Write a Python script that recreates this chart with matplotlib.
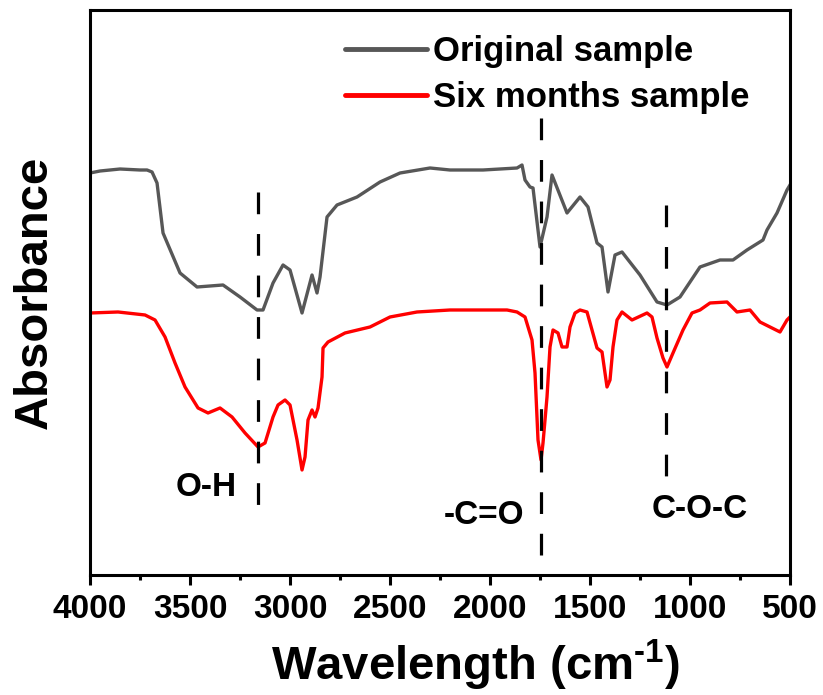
import matplotlib
matplotlib.use('Agg')
import matplotlib.pyplot as plt
import numpy as np
from matplotlib.ticker import MultipleLocator

plt.rcParams['font.family'] = 'Liberation Sans'
plt.rcParams['font.weight'] = 'bold'
plt.rcParams['mathtext.fontset'] = 'custom'
plt.rcParams['mathtext.rm'] = 'Liberation Sans:bold'
plt.rcParams['mathtext.bf'] = 'Liberation Sans:bold'
plt.rcParams['mathtext.default'] = 'bf'

# ---- data (arbitrary absorbance units) ----
wn_orig = [4000, 3950, 3850, 3750, 3715, 3690, 3665, 3635, 3550, 3465, 3335, 3250,
           3165, 3135, 3085, 3035, 3000, 2940, 2890, 2865, 2850, 2815, 2765, 2665,
           2550, 2450, 2300, 2200, 2035, 1865, 1840, 1825, 1800, 1785, 1750, 1715,
           1690, 1615, 1550, 1510, 1465, 1440, 1410, 1375, 1340, 1250, 1165, 1115,
           1050, 950, 850, 785, 715, 635, 615, 565, 515, 500]
abs_orig = [402, 404, 406, 405, 405, 403, 392, 342, 302, 288, 290, 278,
            265, 265, 292, 310, 305, 262, 300, 282, 298, 358, 370, 378,
            393, 402, 407, 405, 405, 407, 410, 395, 388, 387, 328, 358,
            400, 362, 378, 368, 332, 328, 283, 320, 323, 300, 273, 270,
            278, 308, 315, 315, 325, 335, 345, 362, 385, 390]

wn_six = [4000, 3860, 3725, 3675, 3625, 3575, 3525, 3460, 3410, 3350, 3290, 3225,
          3160, 3125, 3085, 3060, 3025, 3000, 2965, 2940, 2925, 2910, 2890, 2875,
          2860, 2840, 2835, 2810, 2725, 2600, 2500, 2365, 2200, 1915, 1865, 1825,
          1790, 1775, 1760, 1745, 1735, 1715, 1700, 1685, 1660, 1640, 1615, 1600,
          1575, 1550, 1515, 1490, 1465, 1440, 1415, 1400, 1385, 1365, 1340, 1290,
          1215, 1190, 1165, 1135, 1115, 1085, 1035, 990, 950, 900, 815, 765,
          700, 650, 550, 515, 500]
abs_six = [262, 263, 260, 255, 238, 212, 188, 167, 162, 167, 158, 142,
           128, 132, 158, 170, 175, 170, 135, 105, 118, 155, 165, 158,
           167, 198, 227, 233, 242, 248, 258, 263, 265, 265, 263, 258,
           235, 202, 135, 115, 132, 178, 228, 245, 242, 228, 228, 248,
           262, 265, 263, 245, 227, 223, 188, 195, 228, 255, 263, 255,
           262, 258, 237, 217, 208, 222, 245, 262, 265, 272, 273, 263,
           265, 253, 243, 255, 258]

labels = ['Original sample', 'Six months sample']
colors = ['#575757', '#ff0000']

# band markers: position, dashed line top/bottom, label and label position
band_pos = [3160, 1745, 1120]
band_top = [383, 457, 370]
band_bot = [67, 17, 93]
band_text = ['O-H', '-C=O', 'C-O-C']
text_x = [3420, 2030, 950]
text_y = [87, 59, 65]

fig = plt.figure(figsize=(8.23, 6.95), dpi=100)
ax = fig.add_axes([0.1094, 0.1727, 0.8505, 0.8129])

ax.plot(wn_orig, abs_orig, color=colors[0], lw=2.4, label=labels[0])
ax.plot(wn_six, abs_six, color=colors[1], lw=2.4, label=labels[1])

for p, t, b in zip(band_pos, band_top, band_bot):
    ax.plot([p, p], [t, b], color='black', lw=2.3, dashes=(6.8, 6.2), zorder=5)
for s, tx, ty in zip(band_text, text_x, text_y):
    ax.text(tx, ty, s, fontsize=24, fontweight='bold', ha='center', va='center')

ax.set_xlim(4000, 500)
ax.set_ylim(0, 565)
ax.xaxis.set_major_locator(MultipleLocator(500))
ax.xaxis.set_minor_locator(MultipleLocator(250))
ax.set_yticks([])
ax.tick_params(axis='x', which='major', direction='out', length=7.5, width=2.2,
               labelsize=24, pad=6)
ax.tick_params(axis='x', which='minor', direction='out', length=3.8, width=2.2)
for sp in ax.spines.values():
    sp.set_linewidth(2.2)

ax.set_xlabel(r'Wavelength (cm$^{\text{-1}}$)', fontsize=34, fontweight='bold')
ax.set_ylabel('Absorbance', fontsize=34, fontweight='bold')
ax.xaxis.set_label_coords(0.551, -0.112)
ax.yaxis.set_label_coords(-0.047, 0.5)

leg = ax.legend(loc='upper left', bbox_to_anchor=(0.364, 0.956), frameon=False,
                fontsize=25, handlelength=2.36, handletextpad=0.17, labelspacing=0.38,
                borderpad=0, borderaxespad=0)
for h in leg.get_lines():
    h.set_linewidth(3.5)
    h.set_solid_capstyle('round')

fig.savefig('out.png', dpi=100)
